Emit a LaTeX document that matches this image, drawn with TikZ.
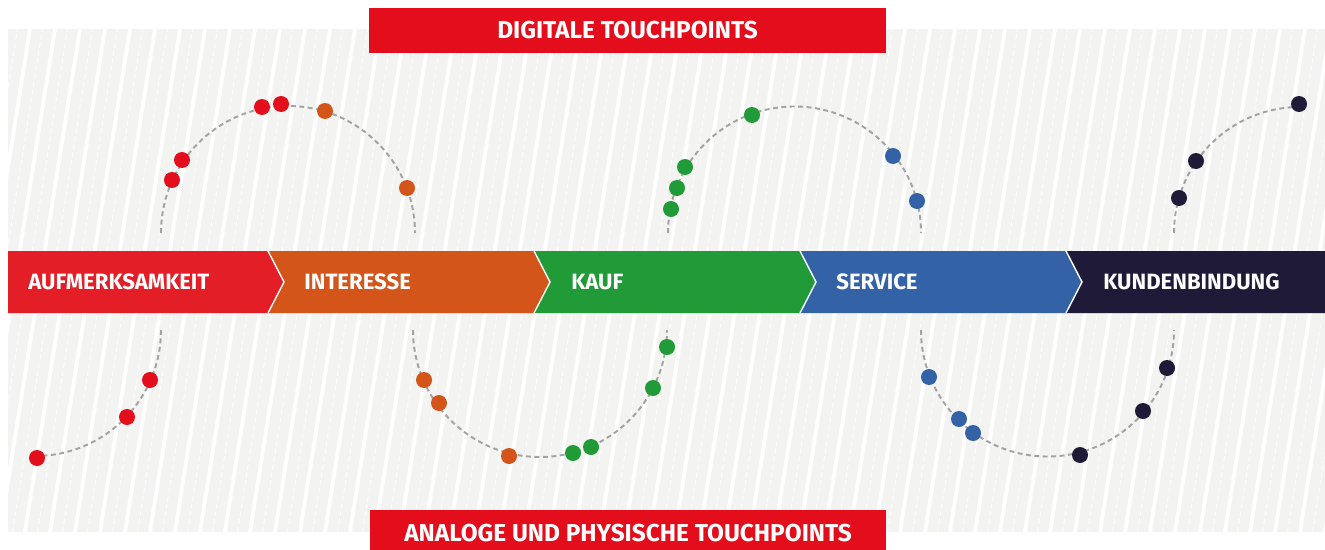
\documentclass[tikz,border=0pt]{standalone}
\usepackage{fontspec}
\setmainfont{Fira Sans}

\definecolor{tpRed}{HTML}{E30D1B}
\definecolor{bandRed}{HTML}{E31E26}
\definecolor{bandOrange}{HTML}{D4551A}
\definecolor{bandGreen}{HTML}{219A38}
\definecolor{bandBlue}{HTML}{3462A7}
\definecolor{bandNavy}{HTML}{1F1A37}
\definecolor{hatchBg}{HTML}{F3F3F2}
\definecolor{curveGray}{HTML}{A3A3A3}

\begin{document}
\begin{tikzpicture}[x=0.02cm, y=0.02cm, font=\bfseries,
		dot/.style={circle, fill=#1, minimum size=0.32cm, inner sep=0pt, outer sep=0pt},
		curve/.style={curveGray, line width=1.1pt, dash pattern=on 2.8pt off 2pt},
		bandtxt/.style={text=white, anchor=west, inner sep=0pt, font=\bfseries\fontsize{12.6}{15}\selectfont},
		titlebox/.style={fill=tpRed, text=white, inner sep=0pt, minimum width=10.34cm, font=\bfseries\fontsize{13.9}{16}\selectfont}]
		\useasboundingbox (0,0) rectangle (1325,549);
		
		% Background
		\fill[hatchBg] (8,17) rectangle (1325,520);
		\begin{scope}
			\clip (8,17) rectangle (1325,520);
			\foreach \x in {-100,-75,...,1350} {
				\draw[white, line width=2.2pt] (\x,17) -- (\x+80,520);
				\draw[white, line width=0.4pt, dash pattern=on 3pt off 1.5pt] (\x+12.5,17) -- (\x+92.5,520);
			}
		\end{scope}
		
		% Titles
		\node[titlebox, minimum height=0.9cm] (digital) at (627.5,518.5) {DIGITALE TOUCHPOINTS};
		\node[titlebox, minimum height=0.94cm] (analog) at (628,15.5) {ANALOGE UND PHYSISCHE TOUCHPOINTS};
		
		% Band
		\fill[bandRed] (8,236) -- (268,236) -- (284,267) -- (268,298) -- (8,298) -- cycle;
		\fill[bandOrange] (268,236) -- (534,236) -- (550,267) -- (534,298) -- (268,298) -- (284,267) -- cycle;
		\fill[bandGreen] (534,236) -- (800,236) -- (816,267) -- (800,298) -- (534,298) -- (550,267) -- cycle;
		\fill[bandBlue] (800,236) -- (1066,236) -- (1082,267) -- (1066,298) -- (800,298) -- (816,267) -- cycle;
		\fill[bandNavy] (1066,236) -- (1325,236) -- (1325,298) -- (1066,298) -- (1082,267) -- cycle;
		\foreach \x in {268,534,800,1066}
			\draw[white, line width=0.8pt] (\x,298) -- (\x+16,267) -- (\x,236);
		
		\node[bandtxt] (aufm) at (28,267) {AUFMERKSAMKEIT};
		\node[bandtxt] (inter) at (304,267) {INTERESSE};
		\node[bandtxt] (kauf) at (571,267) {KAUF};
		\node[bandtxt] (serv) at (836,267) {SERVICE};
		\node[bandtxt] (kund) at (1103,267) {KUNDENBINDUNG};
		
		% Curves
		\draw[curve] (161,219) arc[start angle=0, end angle=-90, radius=126];
		\draw[curve] (161,316) arc[start angle=180, end angle=0, radius=127];
		\draw[curve] (413,219) arc[start angle=180, end angle=360, radius=127];
		\draw[curve] (668,316) arc[start angle=180, end angle=0, radius=126.5];
		\draw[curve] (921,219) arc[start angle=180, end angle=360, radius=126.5];
		\draw[curve] (1174,316) arc[start angle=180, end angle=90, radius=126];
		
		% Touchpoints
		\node[dot=tpRed] (r1) at (37,91) {};
		\node[dot=tpRed] (r2) at (127,132) {};
		\node[dot=tpRed] (r3) at (150,169) {};
		\node[dot=tpRed] (r4) at (172,369) {};
		\node[dot=tpRed] (r5) at (182,389) {};
		\node[dot=tpRed] (r6) at (262,442) {};
		\node[dot=tpRed] (r7) at (281,445) {};
		
		\node[dot=bandOrange] (o1) at (325,438) {};
		\node[dot=bandOrange] (o2) at (407,361) {};
		\node[dot=bandOrange] (o3) at (424,169) {};
		\node[dot=bandOrange] (o4) at (439,146) {};
		\node[dot=bandOrange] (o5) at (509,93) {};
		
		\node[dot=bandGreen] (g1) at (573,96) {};
		\node[dot=bandGreen] (g2) at (591,102) {};
		\node[dot=bandGreen] (g3) at (653,161) {};
		\node[dot=bandGreen] (g4) at (667,202) {};
		\node[dot=bandGreen] (g5) at (671,340) {};
		\node[dot=bandGreen] (g6) at (677,361) {};
		\node[dot=bandGreen] (g7) at (685,382) {};
		\node[dot=bandGreen] (g8) at (752,434) {};
		
		\node[dot=bandBlue] (b1) at (893,393) {};
		\node[dot=bandBlue] (b2) at (917,348) {};
		\node[dot=bandBlue] (b3) at (929,172) {};
		\node[dot=bandBlue] (b4) at (959,130) {};
		\node[dot=bandBlue] (b5) at (973,116) {};
		
		\node[dot=bandNavy] (n1) at (1080,94) {};
		\node[dot=bandNavy] (n2) at (1143,138) {};
		\node[dot=bandNavy] (n3) at (1167,181) {};
		\node[dot=bandNavy] (n4) at (1179,351) {};
		\node[dot=bandNavy] (n5) at (1196,388) {};
		\node[dot=bandNavy] (n6) at (1299,445) {};
		
	\end{tikzpicture}
\end{document}
